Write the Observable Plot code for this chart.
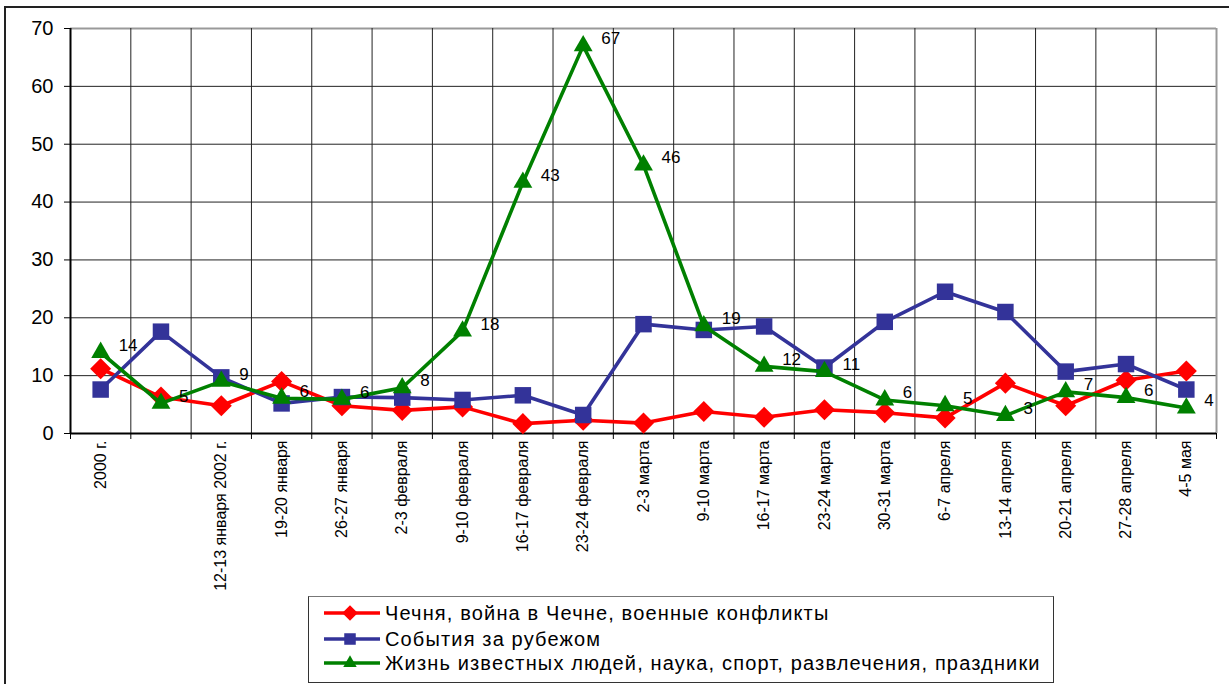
<!DOCTYPE html>
<html>
<head>
<meta charset="utf-8">
<script src="https://cdn.jsdelivr.net/npm/d3@7"></script>
<script src="https://cdn.jsdelivr.net/npm/@observablehq/plot@0.6"></script>
<style>
  html, body { margin: 0; padding: 0; background: #fff; overflow: hidden; width: 1229px; height: 684px; }
  body { position: relative; font-family: "Liberation Sans", Arial, sans-serif; }
  #frame { position: absolute; left: 4px; top: 6px; width: 1400px; height: 800px; border-left: 2px solid #222; border-top: 2px solid #222; box-sizing: border-box; pointer-events: none; }
  #chart { position: absolute; left: 0; top: 0; }
  #legend { position: absolute; left: 308px; top: 596px; width: 746px; height: 87px; border: 1px solid #333; border-top-color: #777; box-sizing: border-box; background: #fff; }
  #legend svg { position: absolute; left: 0; top: 0; }
</style>
</head>
<body>
<div id="frame"></div>
<div id="chart"></div>
<div id="legend"></div>
<script>
// ---- data ----
const periods = ["2000 г.", "", "12-13 января 2002 г.", "19-20 января", "26-27 января", "2-3 февраля", "9-10 февраля", "16-17 февраля", "23-24 февраля", "2-3 марта", "9-10 марта", "16-17 марта", "23-24 марта", "30-31 марта", "6-7 апреля", "13-14 апреля", "20-21 апреля", "27-28 апреля", "4-5 мая"];
const seriesNames = ["Чечня, война в Чечне, военные конфликты", "События за рубежом", "Жизнь известных людей, наука, спорт, развлечения, праздники"];
const chechnya = [11.2, 6.3, 4.8, 9.0, 4.8, 4.0, 4.6, 1.7, 2.3, 1.8, 3.8, 2.8, 4.1, 3.6, 2.7, 8.7, 4.8, 9.2, 10.8];
const abroad   = [7.6, 17.6, 9.7, 5.2, 6.3, 6.2, 5.8, 6.6, 3.2, 18.9, 17.9, 18.5, 11.4, 19.3, 24.5, 21.0, 10.7, 12.0, 7.6];
const celebs   = [14.0, 5.2, 9.0, 6.1, 5.9, 7.9, 17.7, 43.4, 67.0, 46.4, 18.6, 11.6, 10.7, 5.8, 4.8, 3.1, 7.2, 6.2, 4.4];
const yTicks = [0, 10, 20, 30, 40, 50, 60, 70];

// ---- styles ----
const colors = ["#FF0000", "#333399", "#008000"];
const symbols = ["diamond2", "square", "triangle"];
const radii = [9.5, 9.3, 7];

const idx = d3.range(periods.length);
const seriesValues = [chechnya, abroad, celebs];
const rows = seriesValues.map(vals => idx.map(i => ({i, period: periods[i], v: vals[i]})));
const boundaries = d3.range(periods.length + 1).map(k => k - 0.5);
const innerBounds = boundaries.slice(1, -1);

const seriesMarks = rows.flatMap((data, s) => [
  Plot.line(data, {x: "i", y: "v", stroke: colors[s], strokeWidth: 3.6, strokeLinejoin: "round"}),
  Plot.dot(data, {x: "i", y: "v", symbol: () => symbols[s], r: radii[s], fill: colors[s], stroke: "none"})
]);

const chart = Plot.plot({
  width: 1229,
  height: 595,
  marginLeft: 70,
  marginRight: 13,
  marginTop: 28,
  marginBottom: 162,
  style: {fontFamily: "Liberation Sans, Arial, sans-serif", color: "#000", background: "transparent", overflow: "visible"},
  x: {type: "linear", domain: [-0.5, periods.length - 0.5]},
  y: {domain: [0, 70]},
  symbol: {type: "identity"},
  marks: [
    Plot.ruleY(yTicks.slice(1, -1), {stroke: "#222", strokeWidth: 1}),
    Plot.ruleY([70], {stroke: "#999", strokeWidth: 2}),
    Plot.ruleX(innerBounds, {stroke: "#222", strokeWidth: 1}),
    Plot.ruleX([boundaries[boundaries.length - 1]], {stroke: "#999", strokeWidth: 2}),
    Plot.ruleX([boundaries[0]], {stroke: "#000", strokeWidth: 2}),
    Plot.ruleY([0], {stroke: "#000", strokeWidth: 2}),
    Plot.axisY({ticks: yTicks, tickSize: 6, tickPadding: 11, fontSize: 20, label: null, tickFormat: d => String(d)}),
    Plot.axisX({ticks: boundaries, tickSize: 6, tickFormat: () => "", label: null}),
    Plot.axisX({ticks: idx, tickFormat: i => periods[i], tickSize: 0, tickPadding: 7, tickRotate: -90, textAnchor: "end", fontSize: 16, label: null}),
    ...seriesMarks,
    Plot.text(rows[2], {x: "i", y: "v", text: d => String(Math.round(d.v)), textAnchor: "start", dx: 18, dy: -7, fontSize: 17, fill: "#000"})
  ]
});
document.getElementById("chart").appendChild(chart);

// ---- legend ----
const leg = d3.select("#legend").append("svg").attr("width", 746).attr("height", 87);
const rowY = [16, 42, 66];
seriesNames.forEach((name, s) => {
  const g = leg.append("g").attr("transform", `translate(0,${rowY[s]})`);
  g.append("line").attr("x1", 15).attr("x2", 71).attr("y1", 0).attr("y2", 0)
    .attr("stroke", colors[s]).attr("stroke-width", 3.6);
  const sym = {diamond2: d3.symbolDiamond2, square: d3.symbolSquare, triangle: d3.symbolTriangle}[symbols[s]];
  const sizes = [7, 6.5, 5];
  g.append("path").attr("transform", "translate(41,0)")
    .attr("d", d3.symbol(sym, Math.PI * sizes[s] * sizes[s])())
    .attr("fill", colors[s]);
  g.append("text").attr("x", 76).attr("y", 0).attr("dy", "0.35em")
    .attr("font-size", 20).attr("letter-spacing", "1.15px")
    .attr("font-family", "Liberation Sans, Arial, sans-serif")
    .attr("fill", "#000").text(name);
});
</script>
</body>
</html>
